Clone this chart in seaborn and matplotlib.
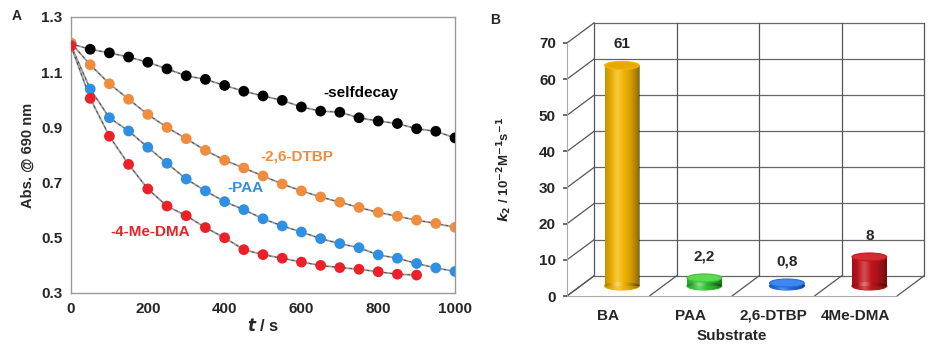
import numpy as np
import pandas as pd
import matplotlib
matplotlib.use("Agg")
import matplotlib.pyplot as plt
import seaborn as sns
from matplotlib.patches import Ellipse

# ---- panel A data: absorbance decay at 690 nm ----
t_full = [0, 50, 100, 150, 200, 250, 300, 350, 400, 450, 500,
          550, 600, 650, 700, 750, 800, 850, 900, 950, 1000]
t_dma = t_full[:19]
selfdecay = [1.203, 1.183, 1.170, 1.155, 1.136, 1.112, 1.087, 1.074, 1.052, 1.031, 1.014,
             0.998, 0.974, 0.959, 0.955, 0.935, 0.923, 0.914, 0.895, 0.886, 0.862]
dtbp = [1.206, 1.127, 1.058, 1.002, 0.947, 0.900, 0.859, 0.817, 0.781, 0.753, 0.724,
        0.695, 0.670, 0.648, 0.629, 0.610, 0.592, 0.578, 0.564, 0.552, 0.538]
paa = [1.197, 1.039, 0.935, 0.887, 0.828, 0.770, 0.713, 0.670, 0.631, 0.602, 0.569,
       0.543, 0.521, 0.497, 0.479, 0.464, 0.438, 0.426, 0.407, 0.391, 0.378]
me_dma = [1.195, 1.005, 0.868, 0.766, 0.677, 0.615, 0.580, 0.537, 0.500, 0.457, 0.439,
          0.426, 0.412, 0.400, 0.392, 0.386, 0.377, 0.368, 0.365]

# ---- panel B data: rate constants ----
substrates = ["BA", "PAA", "2,6-DTBP", "4Me-DMA"]
k2 = [61, 2.2, 0.8, 8]
k2_labels = ["61", "2,2", "0,8", "8"]
bar_colors = ["#F5B600", "#38C638", "#2170E0", "#C4161C"]
top_colors = ["#E9A900", "#5ED84E", "#3F86EE", "#D42C30"]

sns.set_theme(style="white")
plt.rcParams["font.family"] = ["Liberation Sans", "DejaVu Sans"]
plt.rcParams["font.weight"] = "bold"

fig = plt.figure(figsize=(9.31, 3.45), dpi=100)
W, H = 931, 345

def box(l, t, r, b):
    return [l / W, (H - b) / H, (r - l) / W, (b - t) / H]

# ================= panel A =================
ax = fig.add_axes(box(71, 17, 455, 293))
series = [
    (t_full, selfdecay, "black"),
    (t_full, dtbp, "#F08C3E"),
    (t_full, paa, "#2E8FE3"),
    (t_dma, me_dma, "#EC2028"),
]
for tt, yy, col in series:
    ax.plot(tt, yy, color="#9a9a9a", lw=1.3, zorder=2)
    ax.plot(tt, yy, color="#444444", lw=0.6, ls=(0, (3, 4)), zorder=2)
    sns.scatterplot(x=tt, y=yy, color=col, s=60, edgecolor="none", ax=ax, zorder=3)

ax.set_xlim(0, 1000)
ax.set_ylim(0.3, 1.3)
ax.set_xticks(range(0, 1001, 200))
ax.set_yticks([0.3, 0.5, 0.7, 0.9, 1.1, 1.3])
ax.set_yticklabels(["0.3", "0.5", "0.7", "0.9", "1.1", "1.3"])
ax.tick_params(axis="both", labelsize=11, direction="inout", length=6,
               color="#888888", width=1)
ax.tick_params(axis="y", pad=3)
for lab in ax.get_xticklabels() + ax.get_yticklabels():
    lab.set_fontweight("bold")
for sp in ax.spines.values():
    sp.set_color("#999999")
    sp.set_linewidth(1)
ax.set_xlabel("$\\boldsymbol{t}$ / s", fontsize=12, fontweight="bold", labelpad=1)
ax.set_ylabel("Abs. @ 690 nm", fontsize=10.5, fontweight="bold", labelpad=5)

ax.text(656, 1.025, "-selfdecay", color="black", fontsize=11, fontweight="bold", ha="left", va="center")
ax.text(492, 0.793, "-2,6-DTBP", color="#F08C3E", fontsize=11, fontweight="bold", ha="left", va="center")
ax.text(406, 0.680, "-PAA", color="#2E8FE3", fontsize=11, fontweight="bold", ha="left", va="center")
ax.text(102, 0.521, "-4-Me-DMA", color="#EC2028", fontsize=11, fontweight="bold", ha="left", va="center")
fig.text(12 / W, 1 - 16 / H, "A", fontsize=10, fontweight="bold", va="center")

# ================= panel B =================
bx = fig.add_axes(box(567, 43, 897, 296))
bx.set_xlim(-0.5, 3.5)
bx.set_ylim(0, 70)
DX, DY = 0.33, 5.6  # depth offset of the back wall, in data units
wall = "#555555"
grid = "#666666"

# back wall, side wall and floor
for yv in range(0, 71, 10):
    bx.plot([-0.5 + DX, 3.5 + DX], [yv + DY, yv + DY], color=grid, lw=0.9, clip_on=False, zorder=1)
    bx.plot([-0.5, -0.5 + DX], [yv, yv + DY], color=wall, lw=0.9, clip_on=False, zorder=1)
for xv in [-0.5, 0.5, 1.5, 2.5, 3.5]:
    bx.plot([xv + DX, xv + DX], [DY, 70 + DY], color=wall, lw=0.9, clip_on=False, zorder=1)
    bx.plot([xv, xv + DX], [0, DY], color=wall, lw=0.9, clip_on=False, zorder=1)
bx.plot([-0.5, -0.5], [0, 70], color="#aaaaaa", lw=0.8, clip_on=False, zorder=1)
bx.plot([-0.5, 3.5], [0, 0], color="#aaaaaa", lw=0.8, clip_on=False, zorder=1)

# cylinders
bw = 0.42
df = pd.DataFrame({"substrate": substrates, "k2": k2})
sns.barplot(data=df, x="substrate", y="k2", hue="substrate", palette=bar_colors,
            width=bw, saturation=1, legend=False, ax=bx, zorder=3)
ell_h = 2.2

# smooth shading overlay: dark at the edges, light left of centre
u = np.linspace(0, 1, 60)
dark = np.clip(np.abs(u - 0.4) / 0.6, 0, 1) ** 2 * 0.45
light = np.clip(1 - np.abs(u - 0.35) / 0.2, 0, 1) * 0.25
rgba = np.zeros((1, u.size, 4))
rgba[0, :, :3] = (light / (light + dark + 1e-9))[:, None]
rgba[0, :, 3] = dark + light

for i, p in enumerate(list(bx.patches)):
    x0 = i - bw / 2 + DX / 2
    p.set_x(x0)
    p.set_y(DY / 2)
    p.set_edgecolor("none")
    cx = i + DX / 2
    base = Ellipse((cx, DY / 2), bw, ell_h, color=bar_colors[i], zorder=3, clip_on=False)
    bx.add_patch(base)
    body = Ellipse((cx, DY / 2), bw, ell_h, color="none", zorder=3)
    bx.add_patch(body)
    im = bx.imshow(rgba, aspect="auto", interpolation="bilinear",
                   extent=(x0, x0 + bw, DY / 2 - ell_h / 2, DY / 2 + k2[i]), zorder=3.5)
    im.set_clip_path(p)
    im2 = bx.imshow(rgba, aspect="auto", interpolation="bilinear",
                    extent=(x0, x0 + bw, DY / 2 - ell_h / 2, DY / 2 + k2[i]), zorder=3.5)
    im2.set_clip_path(body)
    bx.add_patch(Ellipse((cx, DY / 2 + k2[i]), bw, ell_h, facecolor=top_colors[i],
                         edgecolor=bar_colors[i], lw=0.8, zorder=4, clip_on=False))
    bx.annotate(k2_labels[i], (cx, DY / 2 + k2[i]), xytext=(0, 21), textcoords="offset pixels",
                ha="center", va="center", fontsize=11, fontweight="bold", zorder=5)

bx.set_xlim(-0.5, 3.5)
bx.set_ylim(0, 70)
bx.set_yticks(range(0, 71, 10))
bx.tick_params(axis="y", labelsize=11, left=True, length=3, color="#555555", pad=5)
bx.tick_params(axis="x", labelsize=11, bottom=False, pad=3)
for lab in bx.get_xticklabels() + bx.get_yticklabels():
    lab.set_fontweight("bold")
for sp in bx.spines.values():
    sp.set_visible(False)
bx.set_xlabel("Substrate", fontsize=11, fontweight="bold", labelpad=5)
bx.set_ylabel("$\\boldsymbol{k}_\\mathbf{2}$ / 10$^\\mathbf{-2}$M$^\\mathbf{-1}$s$^\\mathbf{-1}$",
              fontsize=9.5, fontweight="bold", labelpad=18)
fig.text(490 / W, 1 - 20 / H, "B", fontsize=10, fontweight="bold", va="center")

fig.savefig("out.png", dpi=100)
